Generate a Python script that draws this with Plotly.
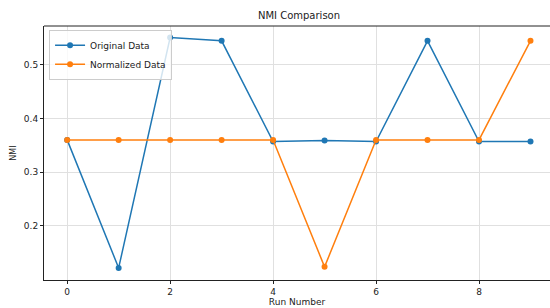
import plotly.graph_objects as go

runs = list(range(10))
original = [0.360, 0.121, 0.551, 0.545, 0.357, 0.359, 0.357, 0.545, 0.357, 0.357]
normalized = [0.360, 0.360, 0.360, 0.360, 0.360, 0.123, 0.360, 0.360, 0.360, 0.545]
x_ticks = [0, 2, 4, 6, 8]
y_ticks = [0.2, 0.3, 0.4, 0.5]

fig = go.Figure()
fig.add_trace(go.Scatter(x=runs, y=original, mode="lines+markers", name="Original Data",
                         line=dict(color="#1f77b4", width=1.5), marker=dict(size=6, color="#1f77b4")))
fig.add_trace(go.Scatter(x=runs, y=normalized, mode="lines+markers", name="Normalized Data",
                         line=dict(color="#ff7f0e", width=1.5), marker=dict(size=6, color="#ff7f0e")))

font = "DejaVu Sans"
fig.update_layout(
    width=550, height=308,
    margin=dict(l=44, r=0, t=26, b=28, autoexpand=False),
    paper_bgcolor="white", plot_bgcolor="white",
    font=dict(family=font, size=9, color="#222"),
    title=dict(text="NMI Comparison", x=299 / 550, xref="container", xanchor="center",
               y=1 - 15 / 308, yref="container", yanchor="middle",
               font=dict(family=font, size=10, color="#222")),
    showlegend=True,
    legend=dict(x=0.01, y=0.985, xanchor="left", yanchor="top", bgcolor="rgba(255,255,255,0.8)",
                bordercolor="#cccccc", borderwidth=1, font=dict(size=9), tracegroupgap=0,
                itemwidth=30),
    xaxis=dict(range=[-0.45, 9.379], tickvals=x_ticks, ticks="outside", ticklen=3, tickcolor="#222",
               showgrid=True, gridcolor="#e0e0e0", gridwidth=1, zeroline=False, automargin=False,
               showline=True, linecolor="#222", linewidth=1,
               title=dict(text="Run Number", standoff=2, font=dict(size=9))),
    yaxis=dict(range=[0.0985, 0.5726], tickvals=y_ticks, tickformat=".1f", ticks="outside", ticklen=3,
               tickcolor="#222", showgrid=True, gridcolor="#e0e0e0", gridwidth=1, zeroline=False,
               showline=True, linecolor="#222", linewidth=1, automargin=False,
               title=dict(text="NMI", standoff=6, font=dict(size=8))),
)
fig.add_shape(type="line", xref="paper", yref="paper", x0=0, x1=1, y0=1, y1=1,
              line=dict(color="#222", width=1))
fig.write_html("out.html", config={"displayModeBar": False},
               post_script="document.body.style.margin='0';document.body.style.overflow='hidden';")
